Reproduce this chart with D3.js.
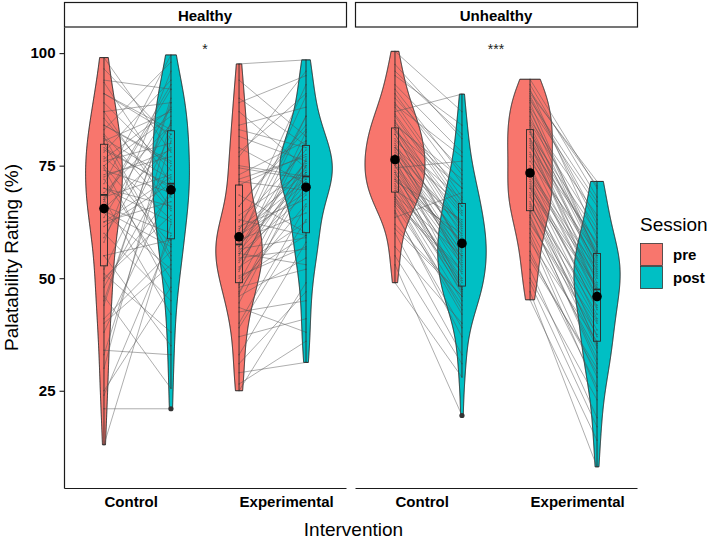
<!DOCTYPE html>
<html><head><meta charset="utf-8">
<script src="https://cdn.jsdelivr.net/npm/d3@7"></script>
<style>body{margin:0;background:#fff} text{font-family:"Liberation Sans",Arial,Helvetica,sans-serif}</style>
</head><body><svg id="c" width="708" height="538"></svg>
<script>
// ---- data ----
const panels = ["Healthy", "Unhealthy"];
const interventions = ["Control", "Experimental"];
const sessions = ["pre", "post"];
const sessionColors = ["#F8766D", "#00BFC4"];
const yTicks = [25, 50, 75, 100];
const significance = ["*", "***"];

// paired values (index i = same participant, pre vs post)
const healthyControlPre = [13,21,25,30,34,38,41,44,46,48,50,51,52,55,58,60,61.5,62.5,63.5,64.5,65.5,66,67,67.5,68,69,70,71,72,73,74,75,75,76,77,78,79,80,80.5,81,82,83,84,85.5,87,89,91,93.5,96.5,99,
  24,33,40,45,49.5,55,59,62.5,65,67.5,70,72.5,74.5,76.5,78.5,81.5,84,87,91,94];
const healthyControlPost = [62,21,48,85,33,70,56,90,25.5,75,64,38,82,58.5,96,45,71,67,88,52,79,60,92,42,73,84,66,99.6,50,77,69,86,57.5,80,63,94,70,54,87,72,65,98,76,68,89,74,83,71,81,78,
  59.5,80.5,53,89,68.5,35,84.5,72.5,57,93,62.5,78.5,47,87.5,70.5,55,75.5,65.5,82,92];
const healthyExpPre = [25,26.5,29,33,37,40,42.5,44.5,46,47,48,49,50,51.5,52.5,53.5,54.5,55,55.5,56,56.5,57,57.5,58,58.5,59,60,60.5,61.5,62.5,64,66,68.5,70.7,71.5,73,75,77,79,81.5,84,87,90,94,97.6,
  31,39,43.5,46.5,48.5,50.5,52,54,55.5,57,58.5,59.5,61,63,66,72,74.5,78,83,89];
const healthyExpPost = [49,36,31.3,58,41,66,45,73.5,54.5,70.5,52,76.5,59.5,82.5,62.5,75,56.5,86,68.5,73,59,80,71.5,90.5,64.5,75.5,72,93,67.5,78.5,74,84,60.1,77.5,69.5,80.5,72.6,96,71,76,88,74.5,79.5,81.5,98.5,
  47,63,38,75,66.5,57,80.5,71,53,76,86,69,73.5,59.5,83,77,72,91,79,95];
const unhealthyControlPre = [49,53,57,60,62,63.5,65,66,67,67.5,68,68.5,69,69.5,70,71,71.5,72,72.5,73,73.5,74,74.5,75,75.5,76.5,77,77.5,78,78.5,79,79.5,80,81,82,82.5,83,83.5,84,85,86,87,88,89,90,91,93,95,97.5,100.4,
  55,61,64.5,66.5,68,70.5,72,73.5,75,76,77.5,79,80.5,82,83,84.5,86.5,88.5,92,96];
const unhealthyControlPost = [28,19.5,40,33,46,69,37,44,52,42,49,55,45,60,47,50,63,46.5,53,58,47.5,54,76,51,56,48,59,54.5,62,55.5,66,52.5,57.5,64,56.5,70,59.5,61,72,61.5,65,90.9,66.8,68,74,71,78,84,81,87,
  31,46,39,51.5,43,49.5,58.5,47.5,55,62.5,53.5,60.5,67.5,57,64.5,70,66,77,73,82];
const unhealthyExpPre = [45.2,47,50,52,54,56,58,60,61,62,63.5,65,65.5,66,67,68,69,70,70.5,71,72,73,73.5,75,76,77,78,79,80,80.5,81,82,82.5,83,84,85,86,87,88,89,90,91,92,93,94.2,
  49,55,59,62.5,64,66.5,68.5,70,71.5,73,74.5,77.5,79.5,81,82.5,84.5,87.5,89.5,90.5,91.5];
const unhealthyExpPost = [14,8.1,23,19,30,26,36,28,33.5,40,32,38.5,34.5,44,35.5,42,48,37,45,41,50,43,52,46,55.5,47,51,58,47.5,53,49,60,52.5,56,54,64,54.5,57,66,55,62,71.5,59,68,70,
  17,29,25,37.5,31,40.5,35,48.5,43.5,50.5,45.5,53.5,47,57.5,51.5,61,55,67,63,70.5];

const groups = [
  {panel: 0, cat: 0, vals: [healthyControlPre, healthyControlPost]},
  {panel: 0, cat: 1, vals: [healthyExpPre, healthyExpPost]},
  {panel: 1, cat: 0, vals: [unhealthyControlPre, unhealthyControlPost]},
  {panel: 1, cat: 1, vals: [unhealthyExpPre, unhealthyExpPost]}
];

// ---- layout ----
const svg = d3.select("#c");
const panelLeft = [64, 355], panelW = 282;
const plotTop = 27, plotBottom = 488;
const dodge = 0.248;
const maxHalfW = 30;

const y = d3.scaleLinear().domain([3.4, 105.8]).range([plotBottom, plotTop]);
const xs = panelLeft.map(l => d3.scaleLinear().domain([0.456, 2.544]).range([l, l + panelW]));

function kde(vals) {
  const n = vals.length, sd = d3.deviation(vals);
  const iqr = d3.quantile(vals, 0.75) - d3.quantile(vals, 0.25);
  const bw = 0.9 * Math.min(sd, iqr / 1.34) * Math.pow(n, -0.2);
  const lo = d3.min(vals), hi = d3.max(vals);
  return d3.range(512).map(i => {
    const v = lo + (hi - lo) * i / 511;
    let s = 0;
    for (const x of vals) { const z = (v - x) / bw; s += Math.exp(-0.5 * z * z); }
    return {v, d: s / (n * bw * Math.sqrt(2 * Math.PI))};
  });
}

const items = [];
groups.forEach(g => {
  sessions.forEach((s, si) => {
    items.push({g, si, vals: g.vals[si], dens: kde(g.vals[si]),
      cx: xs[g.panel](g.cat + 1 + (si === 0 ? -dodge : dodge))});
  });
});
const maxD = d3.max(items, it => d3.max(it.dens, d => d.d));
const wScale = d3.scaleLinear().domain([0, maxD]).range([0, maxHalfW]);

// strips
panels.forEach((p, i) => {
  svg.append("rect").attr("x", panelLeft[i] + 0.5).attr("y", 2.5).attr("width", panelW).attr("height", 24.5)
    .attr("fill", "#fff").attr("stroke", "#1a1a1a").attr("stroke-width", 1.2);
  svg.append("text").attr("x", panelLeft[i] + panelW / 2).attr("y", 20.5).attr("text-anchor", "middle")
    .attr("font-size", 15).attr("font-weight", "bold").text(p);
});

// violins
const area = d3.area().y(d => y(d.v));
const gV = svg.append("g");
items.forEach(it => {
  area.x0(d => it.cx - wScale(d.d)).x1(d => it.cx + wScale(d.d));
  gV.append("path").attr("d", area(it.dens)).attr("fill", sessionColors[it.si])
    .attr("stroke", "#262626").attr("stroke-width", 1);
});

// paired lines
const gL = svg.append("g");
groups.forEach(g => {
  const x0 = xs[g.panel](g.cat + 1 - dodge), x1 = xs[g.panel](g.cat + 1 + dodge);
  g.vals[0].forEach((v, i) => {
    gL.append("line").attr("x1", x0).attr("y1", y(v)).attr("x2", x1).attr("y2", y(g.vals[1][i]))
      .attr("stroke", "#555").attr("stroke-opacity", 0.6).attr("stroke-width", 0.8);
  });
});

// boxplots
const gB = svg.append("g");
const boxHalf = 3.5;
items.forEach(it => {
  const v = it.vals.slice().sort(d3.ascending);
  const q1 = d3.quantile(v, 0.25), med = d3.quantile(v, 0.5), q3 = d3.quantile(v, 0.75);
  const iqr = q3 - q1;
  const lo = d3.min(v.filter(d => d >= q1 - 1.5 * iqr)), hi = d3.max(v.filter(d => d <= q3 + 1.5 * iqr));
  const out = v.filter(d => d < lo || d > hi);
  const c = it.cx;
  gB.append("line").attr("x1", c).attr("x2", c).attr("y1", y(hi)).attr("y2", y(q3)).attr("stroke", "#2b2b2b").attr("stroke-width", 0.9);
  gB.append("line").attr("x1", c).attr("x2", c).attr("y1", y(q1)).attr("y2", y(lo)).attr("stroke", "#2b2b2b").attr("stroke-width", 0.9);
  gB.append("rect").attr("x", c - boxHalf).attr("y", y(q3)).attr("width", boxHalf * 2).attr("height", y(q1) - y(q3))
    .attr("fill", "none").attr("stroke", "#2b2b2b").attr("stroke-width", 0.9);
  gB.append("line").attr("x1", c - boxHalf).attr("x2", c + boxHalf).attr("y1", y(med)).attr("y2", y(med))
    .attr("stroke", "#2b2b2b").attr("stroke-width", 1.8);
  v.forEach(d => gB.append("circle").attr("cx", c).attr("cy", y(d)).attr("r", 0.7).attr("fill", "#333").attr("fill-opacity", 0.5));
  out.forEach(d => gB.append("circle").attr("cx", c).attr("cy", y(d)).attr("r", 2.6).attr("fill", "#333"));
  gB.append("circle").attr("cx", c).attr("cy", y(d3.mean(v))).attr("r", 4.8).attr("fill", "#000");
});

// significance
panels.forEach((p, i) => {
  svg.append("text").attr("x", panelLeft[i] + panelW / 2).attr("y", 54).attr("text-anchor", "middle")
    .attr("font-size", 14).attr("fill", "#222").text(significance[i]);
});

// y axis
const yAxis = svg.append("g").attr("transform", `translate(${panelLeft[0]},0)`)
  .call(d3.axisLeft(y).tickValues(yTicks).tickSize(4.5).tickSizeOuter(0).tickPadding(4));
yAxis.select(".domain").attr("stroke", "#1a1a1a").attr("stroke-width", 1.2);
yAxis.selectAll(".tick line").attr("stroke", "#1a1a1a").attr("stroke-width", 1.1);
yAxis.selectAll(".tick text").attr("font-size", 15).attr("font-weight", "bold").attr("fill", "#000")
  .attr("font-family", "Liberation Sans, Arial, sans-serif");

// x axes
xs.forEach((xsc, i) => {
  const ax = svg.append("g").attr("transform", `translate(0,${plotBottom})`)
    .call(d3.axisBottom(xsc).tickValues([1, 2]).tickFormat((d, j) => interventions[j]).tickSize(0).tickSizeOuter(0).tickPadding(8.5));
  ax.select(".domain").attr("stroke", "#1a1a1a").attr("stroke-width", 1.2);
  const off = xsc(1 - dodge) - xsc(1);
  ax.selectAll(".tick text").attr("font-size", 15).attr("font-weight", "bold").attr("fill", "#000")
    .attr("font-family", "Liberation Sans, Arial, sans-serif").attr("text-anchor", "start").attr("x", off);
});

// axis titles
svg.append("text").attr("x", (panelLeft[0] + panelLeft[1] + panelW) / 2 + 3).attr("y", 535.5).attr("text-anchor", "middle")
  .attr("font-size", 19).text("Intervention");
svg.append("text").attr("transform", `translate(17.5,${(plotTop + plotBottom) / 2}) rotate(-90)`).attr("text-anchor", "middle")
  .attr("font-size", 19).text("Palatability Rating (%)");

// legend
const lg = svg.append("g").attr("transform", "translate(640,0)");
lg.append("text").attr("x", 0).attr("y", 231).attr("font-size", 19).text("Session");
sessions.forEach((s, i) => {
  lg.append("rect").attr("x", 0.5).attr("y", 243.5 + i * 23).attr("width", 22).attr("height", 22)
    .attr("fill", sessionColors[i]).attr("stroke", "#333").attr("stroke-width", 0.8);
  lg.append("text").attr("x", 33).attr("y", 259.5 + i * 23).attr("font-size", 15).attr("font-weight", "bold").text(s);
});
</script></body></html>
